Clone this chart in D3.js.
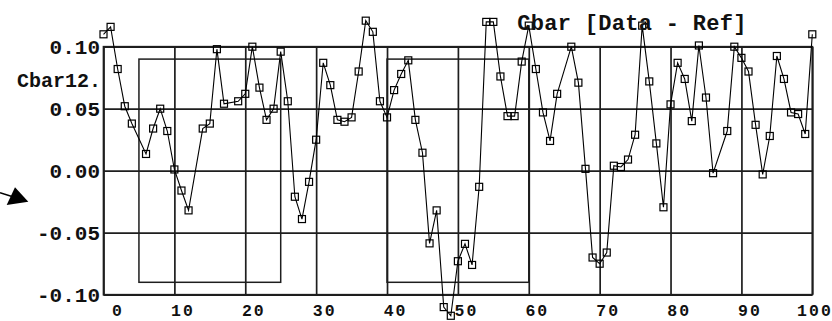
<!DOCTYPE html>
<html>
<head>
<meta charset="utf-8">
<script src="https://cdn.jsdelivr.net/npm/d3@7"></script>
<style>
    body { margin: 0; background: #fff; }
    #chart-area { width: 832px; height: 321px; }
    text { font-family: "Courier New", "Liberation Mono", monospace; font-weight: bold; fill: #111; }
</style>
</head>
<body>
<div id="chart-area"></div>
<script>

// run index (x) and Cbar12 difference values
const runX = [0, 1, 2, 3, 4, 6, 7, 8, 9, 10, 11, 12, 14, 15, 16, 17, 19, 20, 21, 22,
    23, 24, 25, 26, 27, 28, 29, 30, 31, 32, 33, 34, 35, 36, 37, 38, 39, 40, 41, 42,
    43, 44, 45, 46, 47, 48, 49, 50, 51, 52, 53, 54, 55, 56, 57, 58, 59, 60, 61, 62,
    63, 64, 66, 67, 68, 69, 70, 71, 72, 73, 74, 75, 76, 77, 78, 79, 80, 81, 82, 83,
    84, 85, 86, 88, 89, 90, 91, 92, 93, 94, 95, 96, 97, 98, 99, 100];

const cbarDiff = [0.110, 0.116, 0.082, 0.052, 0.038, 0.0135, 0.034, 0.050, 0.032, 0.001,
    -0.016, -0.032, 0.034, 0.038, 0.098, 0.054, 0.056, 0.062, 0.100, 0.067,
    0.041, 0.050, 0.096, 0.056, -0.021, -0.039, -0.009, 0.025, 0.087, 0.069,
    0.041, 0.0395, 0.043, 0.080, 0.121, 0.112, 0.056, 0.043, 0.065, 0.078,
    0.089, 0.041, 0.0145, -0.0586, -0.032, -0.110, -0.117, -0.073, -0.059, -0.076,
    -0.013, 0.120, 0.120, 0.076, 0.044, 0.044, 0.088, 0.117, 0.082, 0.047,
    0.024, 0.062, 0.100, 0.071, 0.0015, -0.070, -0.075, -0.066, 0.004, 0.003,
    0.009, 0.029, 0.117, 0.072, 0.022, -0.0295, 0.0535, 0.087, 0.074, 0.040,
    0.101, 0.059, -0.002, 0.032, 0.100, 0.091, 0.080, 0.037, -0.003, 0.028,
    0.0925, 0.074, 0.047, 0.0457, 0.0296, 0.110];

// axis ticks
const xTicks = [0, 10, 20, 30, 40, 50, 60, 70, 80, 90, 100];
const yTicks = [-0.10, -0.05, 0.00, 0.05, 0.10];

// reference windows drawn as boxes
const boxStart = [5, 40];
const boxEnd = [25, 60];
const boxLimits = [-0.09, 0.09];

class DiffVis {
    constructor(parentElement) {
        this.parentElement = parentElement;
        this.data = runX.map((x, i) => ({x: x, y: cbarDiff[i]}));
        this.initVis();
    }

    initVis() {
        let vis = this;

        vis.margin = {top: 46.7, right: 19.7, bottom: 26.3, left: 103.5};
        vis.width = 832 - vis.margin.left - vis.margin.right;
        vis.height = 321 - vis.margin.top - vis.margin.bottom;

        vis.svg = d3.select("#" + vis.parentElement).append("svg")
            .attr("width", 832)
            .attr("height", 321);

        vis.g = vis.svg.append("g")
            .attr("transform", `translate(${vis.margin.left}, ${vis.margin.top})`);

        vis.x = d3.scaleLinear().domain([0, 100]).range([0, vis.width]);
        vis.y = d3.scaleLinear().domain([-0.1, 0.1]).range([vis.height, 0]);

        vis.updateVis();
    }

    updateVis() {
        let vis = this;
        const gridColor = "#1e1e1e";

        // vertical grid
        vis.g.append("g")
            .attr("class", "grid")
            .attr("transform", `translate(0, ${vis.height})`)
            .call(d3.axisBottom(vis.x).tickValues(xTicks).tickSize(-vis.height).tickFormat(""))
            .call(g => g.select(".domain").remove());

        // horizontal grid
        vis.g.append("g")
            .attr("class", "grid")
            .call(d3.axisLeft(vis.y).tickValues(yTicks).tickSize(-vis.width).tickFormat(""))
            .call(g => g.select(".domain").remove());

        vis.g.selectAll(".grid line")
            .attr("stroke", gridColor)
            .attr("stroke-width", 1.7);

        // frame
        vis.g.append("rect")
            .attr("width", vis.width)
            .attr("height", vis.height)
            .attr("fill", "none")
            .attr("stroke", gridColor)
            .attr("stroke-width", 1.7);

        // boxes
        vis.g.selectAll(".box")
            .data(boxStart)
            .enter().append("rect")
            .attr("class", "box")
            .attr("x", d => vis.x(d))
            .attr("y", vis.y(boxLimits[1]))
            .attr("width", (d, i) => vis.x(boxEnd[i]) - vis.x(d))
            .attr("height", vis.y(boxLimits[0]) - vis.y(boxLimits[1]))
            .attr("fill", "none")
            .attr("stroke", gridColor)
            .attr("stroke-width", 1.5);

        // y labels
        vis.g.append("g")
            .call(d3.axisLeft(vis.y).tickValues(yTicks).tickSize(0).tickPadding(3.5)
                .tickFormat(d => d.toFixed(2)))
            .call(g => g.select(".domain").remove())
            .selectAll("text")
            .attr("font-size", 21)
            .attr("font-family", null)
            .attr("dy", "0.34em");

        // x labels (kept small enough to stay inside the bottom edge)
        vis.g.append("g")
            .attr("transform", `translate(0, ${vis.height})`)
            .call(d3.axisBottom(vis.x).tickValues(xTicks).tickSize(0).tickFormat(d => d))
            .call(g => g.select(".domain").remove())
            .selectAll("text")
            .attr("font-size", 16.5)
            .attr("font-family", null)
            .attr("letter-spacing", 2)
            .attr("text-anchor", "end")
            .attr("x", 20)
            .attr("y", 21.2)
            .attr("dy", 0);

        // data line
        let line = d3.line()
            .x(d => vis.x(d.x))
            .y(d => vis.y(d.y));

        vis.g.append("path")
            .datum(vis.data)
            .attr("d", line)
            .attr("fill", "none")
            .attr("stroke", "#000")
            .attr("stroke-width", 1.1);

        vis.g.selectAll(".marker")
            .data(vis.data)
            .enter().append("rect")
            .attr("class", "marker")
            .attr("x", d => vis.x(d.x) - 3.5)
            .attr("y", d => vis.y(d.y) - 3.5)
            .attr("width", 7)
            .attr("height", 7)
            .attr("fill", "none")
            .attr("stroke", "#000")
            .attr("stroke-width", 1.2);

        // title and series label
        vis.svg.append("text")
            .attr("x", 632)
            .attr("y", 30)
            .attr("text-anchor", "middle")
            .attr("font-size", 22)
            .attr("letter-spacing", 0.3)
            .text("Cbar [Data - Ref]");

        vis.svg.append("text")
            .attr("x", 101)
            .attr("y", 87)
            .attr("text-anchor", "end")
            .attr("font-size", 20)
            .text("Cbar12.");

        // arrow at left edge
        vis.svg.append("line")
            .attr("x1", 0).attr("y1", 192.7)
            .attr("x2", 12).attr("y2", 196.5)
            .attr("stroke", "#000")
            .attr("stroke-width", 1.5);

        vis.svg.append("path")
            .attr("d", "M6.7,205 L15,187.3 L28.3,201.7 Z")
            .attr("fill", "#000");
    }
}

new DiffVis("chart-area");
</script>
</body>
</html>
